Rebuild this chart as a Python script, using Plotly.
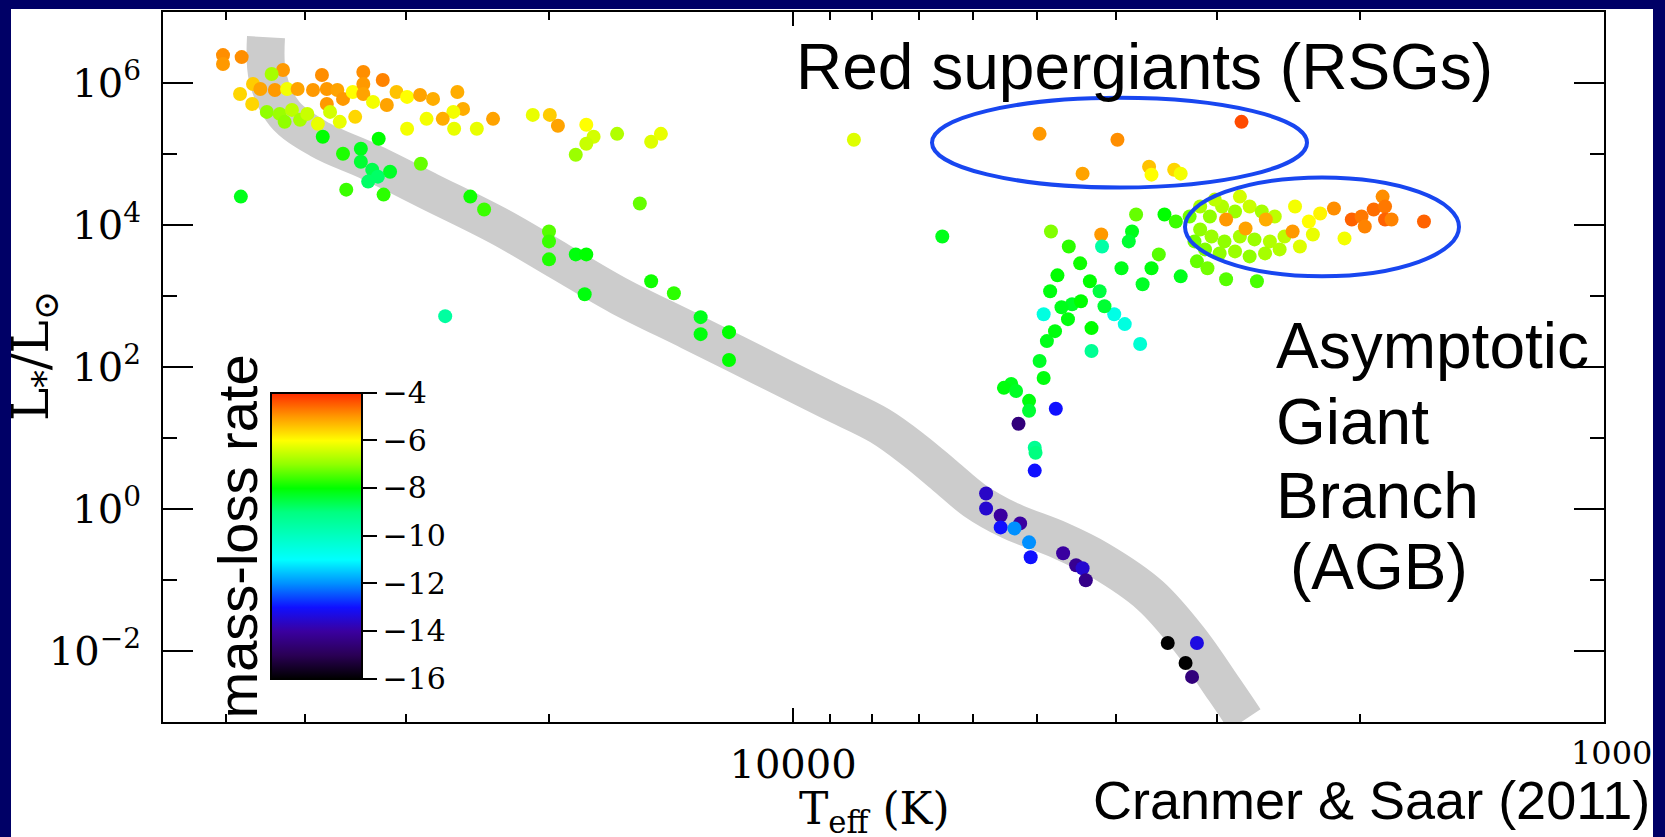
import numpy as np
import plotly.graph_objects as go

# ---------------- data (log10 Teff [K], log10 L/Lsun, log10 mass-loss rate) ----------------
log_teff = [4.703, 4.703, 4.680, 4.629, 4.643, 4.666, 4.657, 4.639, 4.682, 4.667,
            4.624, 4.611, 4.592, 4.581, 4.575, 4.562, 4.575, 4.555, 4.543, 4.530,
            4.530, 4.530, 4.506, 4.518, 4.501, 4.489, 4.476, 4.460, 4.444, 4.414,
            4.407, 4.419, 4.432, 4.452, 4.390, 4.370, 4.476, 4.418, 4.649, 4.633,
            4.618, 4.608, 4.599, 4.627, 4.586, 4.559, 4.540, 4.571, 4.321, 4.300,
            4.290, 4.255, 4.246, 4.255, 4.268, 4.217, 4.175, 4.163, 3.925, 4.580,
            4.555, 4.533, 4.511, 4.533, 4.519, 4.512, 4.497, 4.524, 4.459, 4.551,
            4.505, 4.681, 4.398, 4.381, 4.189, 4.429, 4.301, 4.301, 4.301, 4.268,
            4.255, 4.257, 4.175, 4.147, 4.114, 4.114, 4.079, 4.079, 3.816,
            3.696, 3.643, 3.600, 3.561, 3.558, 3.530, 3.522, 3.447,
            3.682, 3.660, 3.620, 3.619, 3.634, 3.691, 3.656, 3.669, 3.661, 3.645,
            3.687, 3.677, 3.696, 3.691, 3.731, 3.740, 3.725, 3.709, 3.709, 3.676,
            3.632, 3.632, 3.604, 3.591, 3.572,
            3.577, 3.542, 3.528, 3.582, 3.586, 3.549, 3.595, 3.558, 3.522, 3.569,
            3.502, 3.489, 3.466, 3.428, 3.622, 3.616,
            3.498, 3.486, 3.471, 3.455, 3.437, 3.422, 3.406, 3.498, 3.484, 3.468,
            3.449, 3.431, 3.412, 3.394, 3.492, 3.474, 3.455, 3.437, 3.418, 3.400,
            3.505, 3.480, 3.449, 3.511, 3.466, 3.442, 3.417, 3.384, 3.381, 3.364,
            3.359, 3.350, 3.320, 3.375, 3.333, 3.311, 3.299, 3.284, 3.273, 3.270,
            3.270, 3.262, 3.222, 3.295,
            3.722, 3.702, 3.701, 3.702, 3.762, 3.762, 3.744, 3.744, 3.720, 3.727,
            3.709, 3.707, 3.667, 3.651, 3.643, 3.639, 3.538, 3.502, 3.516, 3.508,
            3.674, 3.683, 3.646]

log_lum = [6.393, 6.267, 6.365, 6.183, 6.127, 5.986, 5.916, 5.902, 5.846, 5.705,
           5.916, 5.916, 5.902, 6.112, 5.916, 5.902, 5.705, 5.776, 5.874, 6.155,
           5.986, 5.846, 6.042, 5.734, 5.691, 5.874, 5.804, 5.832, 5.776, 5.874,
           5.635, 5.593, 5.495, 5.495, 5.355, 5.495, 5.355, 5.355, 5.593, 5.565,
           5.621, 5.481, 5.565, 5.453, 5.425, 5.453, 5.523, 5.593, 5.551, 5.551,
           5.397, 5.411, 5.242, 5.144, 4.990, 5.284, 5.172, 5.284, 5.200, 5.242,
           5.004, 5.074, 5.214, 4.891, 4.779, 4.681, 4.751, 4.611, 4.863, 4.498,
           4.428, 4.400, 4.400, 4.218, 4.302, 2.716, 3.909, 3.769, 3.516, 3.586,
           3.586, 3.025, 3.207, 3.039, 2.702, 2.463, 2.491, 2.098, 3.839,
           5.284, 4.723, 5.200, 4.821, 4.709, 4.779, 4.723, 5.453,
           3.909, 3.698, 3.867, 3.698, 3.207, 2.744, 2.884, 2.842, 2.674, 2.927,
           2.365, 2.505, 2.084, 1.846, 1.762, 1.706, 1.663, 1.523, 1.383, 1.411,
           2.548, 2.225, 2.744, 2.604, 2.323,
           4.148, 4.148, 4.049, 3.909, 3.769, 3.586, 3.390, 3.390, 3.277, 3.165,
           3.488, 3.390, 3.235, 3.207, 3.067, 2.856,
           4.260, 4.120, 4.260, 4.190, 4.260, 4.190, 4.120, 3.937, 3.839, 3.769,
           3.839, 3.797, 3.769, 3.839, 3.656, 3.600, 3.628, 3.558, 3.600, 3.656,
           3.769, 4.358, 4.400, 4.120, 4.077, 3.951, 4.077, 3.909, 4.260, 4.049,
           3.867, 4.162, 3.811, 3.698, 4.232, 4.077, 4.120, 4.218, 4.400, 4.260,
           4.077, 4.077, 4.049, 3.979,
           1.200, 0.863, 0.793, 0.541, 0.218, 0.007, -0.091, -0.259, -0.203, -0.273,
           -0.470, -0.680, -0.624, -0.793, -0.835, -1.003, -1.887, -1.887, -2.168, -2.365,
           3.291, 3.067, 3.460]

mass_loss = [-4.9, -5.0, -4.9, -5.0, -6.8, -5.5, -5.1, -5.0, -5.6, -5.6,
             -6.1, -5.1, -5.0, -4.9, -5.0, -5.1, -5.0, -5.0, -6.0, -4.9,
             -5.0, -5.1, -4.8, -6.1, -5.1, -5.4, -6.0, -5.1, -5.2, -5.2,
             -5.2, -6.1, -5.2, -6.1, -6.2, -5.1, -6.1, -6.2, -7.0, -6.9,
             -6.6, -6.8, -6.5, -7.0, -6.2, -6.2, -5.6, -6.4, -6.2, -5.5,
             -5.1, -6.0, -6.4, -6.5, -6.9, -6.7, -6.3, -6.2, -6.3, -8.0,
             -7.8, -8.2, -8.0, -8.4, -8.6, -8.8, -8.3, -8.8, -7.3, -7.6,
             -7.7, -8.2, -7.9, -7.6, -7.3, -9.5, -7.4, -7.6, -7.8, -8.1,
             -8.0, -8.1, -7.9, -7.7, -8.2, -8.1, -8.0, -8.0, -8.2,
             -5.0, -5.1, -4.9, -5.4, -6.0, -5.6, -6.1, -4.3,
             -7.1, -7.7, -5.0, -9.6, -8.0, -10.5, -8.3, -8.2, -8.1, -8.0,
             -8.2, -8.1, -8.3, -8.1, -8.2, -8.1, -8.3, -8.1, -8.4, -13.0,
             -8.0, -9.3, -10.6, -10.5, -10.3,
             -7.3, -8.0, -7.6, -8.2, -8.4, -7.4, -8.2, -8.1, -8.2, -8.3,
             -7.3, -7.2, -7.4, -7.5, -8.5, -8.4,
             -6.8, -7.0, -6.7, -6.9, -6.5, -6.8, -6.6, -7.0, -6.9, -7.0,
             -6.8, -6.9, -6.7, -6.6, -7.1, -7.0, -6.9, -7.0, -6.8, -6.7,
             -7.2, -6.6, -6.4, -7.2, -5.0, -5.1, -5.2, -5.0, -6.1, -6.0,
             -6.2, -5.9, -6.1, -6.3, -4.9, -4.5, -4.7, -4.6, -4.9, -4.7,
             -4.5, -4.8, -4.5, -4.8,
             -14.5, -9.3, -9.0, -13.0, -13.6, -13.5, -14.0, -13.0, -14.0, -12.0,
             -12.0, -13.0, -14.0, -14.2, -13.5, -14.3, -16.0, -13.3, -16.0, -14.5,
             -8.0, -8.1, -7.9]

# main-sequence band (centre line)
band_log_teff = [4.650, 4.648, 4.627, 4.583, 4.522, 4.448, 4.362, 4.288, 4.214, 4.127,
                 4.041, 3.955, 3.893, 3.850, 3.813, 3.776, 3.733, 3.671, 3.622, 3.560,
                 3.511, 3.468, 3.443]
band_log_lum = [6.646, 6.084, 5.565, 5.200, 4.891, 4.470, 3.979, 3.488, 2.997, 2.505,
                2.014, 1.523, 1.172, 0.821, 0.470, 0.119, -0.161, -0.442, -0.722, -1.214,
                -1.845, -2.547, -2.968]

cbar_ticks = [-4, -6, -8, -10, -12, -14, -16]
y_tickvals = [1e-2, 1e0, 1e2, 1e4, 1e6]
y_ticktext = ["10<sup>\u22122</sup>", "10<sup>0</sup>", "10<sup>2</sup>", "10<sup>4</sup>", "10<sup>6</sup>"]
y_minor = [1e-1, 1e1, 1e3, 1e5]
x_tickvals = [10000]
x_ticktext = ["10000"]
x_minor = [50000, 40000, 30000, 20000, 9000, 8000, 7000, 6000, 5000, 4000, 3000, 2000]

colorscale = [
    [0.0, "#000000"], [0.0833, "#2a0055"], [0.1667, "#3a00a0"], [0.25, "#1010ff"],
    [0.3333, "#0090ff"], [0.4167, "#00ffff"], [0.5, "#00ffc0"], [0.5833, "#00ff80"],
    [0.6667, "#00ff00"], [0.75, "#90ff00"], [0.8333, "#ffff00"], [0.9167, "#ff9900"],
    [1.0, "#ff2a00"],
]

# ---------------- geometry helpers (pixels -> paper) ----------------
W, H = 1665, 837
ML, MR, MT, MB = 163, 61, 10, 115
PW, PH = W - ML - MR, H - MT - MB


def px(X):
    return (X - ML) / PW


def py(Y):
    return (H - MB - Y) / PH


fig = go.Figure()

fig.add_trace(go.Scatter(
    x=10 ** np.array(band_log_teff), y=10 ** np.array(band_log_lum),
    mode="lines", line=dict(color="#cccccc", width=38, shape="spline"),
    hoverinfo="skip", showlegend=False))

fig.add_trace(go.Scatter(
    x=10 ** np.array(log_teff), y=10 ** np.array(log_lum),
    mode="markers",
    marker=dict(size=14, color=mass_loss, colorscale=colorscale, cmin=-16, cmax=-4,
                line=dict(width=0),
                colorbar=dict(
                    x=px(271), xanchor="left", xref="paper", xpad=0,
                    y=py(535), yanchor="middle", ypad=0,
                    len=286, lenmode="pixels", thickness=91, thicknessmode="pixels",
                    outlinewidth=2, outlinecolor="black",
                    tickmode="array", tickvals=cbar_ticks,
                    ticks="outside", ticklen=14, tickwidth=2, tickcolor="black",
                    tickfont=dict(family="DejaVu Serif", size=30, color="black"),
                )),
    showlegend=False))

axis_font = dict(family="DejaVu Serif", size=40, color="black")

fig.update_xaxes(
    type="log", range=[4.777, 3.0], showgrid=False, zeroline=False,
    showline=True, linecolor="black", linewidth=2, mirror="allticks",
    ticks="inside", ticklen=14, tickwidth=2, tickcolor="black",
    tickmode="array", tickvals=x_tickvals, ticktext=x_ticktext,
    tickfont=axis_font, ticklabelstandoff=6,
    minor=dict(tickmode="array", tickvals=x_minor, ticks="inside", ticklen=8,
               tickwidth=1.5, tickcolor="black", showgrid=False),
)
fig.update_yaxes(
    type="log", range=[-3, 7], showgrid=False, zeroline=False,
    showline=True, linecolor="black", linewidth=2, mirror="allticks",
    ticks="inside", ticklen=30, tickwidth=2, tickcolor="black",
    tickmode="array", tickvals=y_tickvals, ticktext=y_ticktext,
    tickfont=axis_font, ticklabelstandoff=12,
    minor=dict(tickmode="array", tickvals=y_minor, ticks="inside", ticklen=14,
               tickwidth=2, tickcolor="black", showgrid=False),
)

shapes = [
    dict(type="rect", xref="paper", yref="paper", x0=px(11), x1=px(1653), y0=py(860), y1=py(7),
         fillcolor="white", line=dict(width=0), layer="below"),
    dict(type="circle", xref="paper", yref="paper", x0=px(932), x1=px(1307), y0=py(186), y1=py(96),
         line=dict(color="#1846F0", width=4)),
    dict(type="circle", xref="paper", yref="paper", x0=px(1185), x1=px(1459), y0=py(275), y1=py(176),
         line=dict(color="#1846F0", width=4)),
]

sans = "Liberation Sans, Arial, sans-serif"
annotations = [
    dict(text="Red supergiants (RSGs)", x=px(794), y=py(65), xanchor="left", yanchor="middle",
         font=dict(family=sans, size=64, color="black")),
    dict(text="Asymptotic", x=px(1274), y=py(345), xanchor="left", yanchor="middle",
         font=dict(family=sans, size=64, color="black")),
    dict(text="Giant", x=px(1274), y=py(421), xanchor="left", yanchor="middle",
         font=dict(family=sans, size=64, color="black")),
    dict(text="Branch", x=px(1274), y=py(495), xanchor="left", yanchor="middle",
         font=dict(family=sans, size=64, color="black")),
    dict(text="(AGB)", x=px(1288), y=py(567), xanchor="left", yanchor="middle",
         font=dict(family=sans, size=64, color="black")),
    dict(text="Cranmer &amp; Saar (2011)", x=px(1652), y=py(800), xanchor="right", yanchor="middle",
         font=dict(family=sans, size=54, color="black")),
    dict(text="mass-loss rate", x=px(238), y=py(536), xanchor="center", yanchor="middle",
         textangle=-90, font=dict(family=sans, size=56, color="black")),
    dict(text="1000", x=px(1654), y=py(753), xanchor="right", yanchor="middle",
         font=dict(family="DejaVu Serif", size=32, color="black")),
    dict(text="T<sub>eff</sub> (K)", x=px(797), y=py(781), xanchor="left", yanchor="top",
         font=dict(family="DejaVu Serif", size=44, color="black")),
    dict(text="L<sub>*</sub>/L<sub>\u2299</sub>", x=px(34), y=py(355), xanchor="center", yanchor="middle",
         textangle=-90, font=dict(family="DejaVu Serif", size=50, color="black")),
]
for a in annotations:
    a.update(xref="paper", yref="paper", showarrow=False)

fig.update_layout(
    width=W, height=H, autosize=False,
    margin=dict(l=ML, r=MR, t=MT, b=MB, pad=0),
    paper_bgcolor="#000066", plot_bgcolor="white",
    shapes=shapes, annotations=annotations, showlegend=False,
)

fig.write_html("out.html", config={"displayModeBar": False})
with open("out.html", "r", encoding="utf-8") as f:
    html = f.read()
html = html.replace("<body>", '<body style="margin:0;padding:0;overflow:hidden;">', 1)
with open("out.html", "w", encoding="utf-8") as f:
    f.write(html)
